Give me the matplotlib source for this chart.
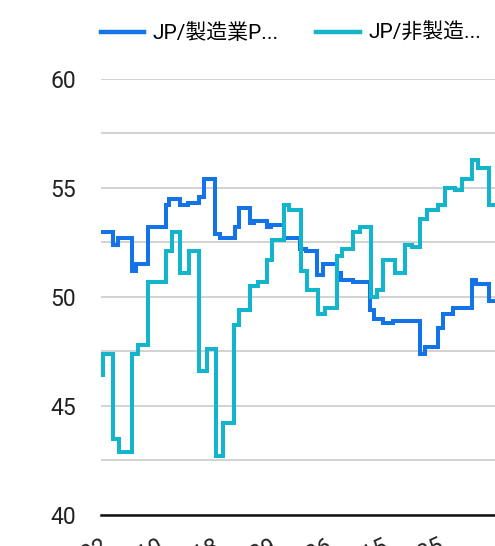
import numpy as np
import matplotlib
matplotlib.use("Agg")
import matplotlib.pyplot as plt
from matplotlib.lines import Line2D

plt.rcParams['font.family'] = ['Roboto', 'Noto Sans CJK JP', 'DejaVu Sans']

BLUE = "#1473E6"
CYAN = "#12B5CB"
GRID = "#CFCFCF"

# Latest published reading (flash / final) for each series
MFG_DATES = ["2021-08-02", "2021-08-23", "2021-09-01", "2021-09-27", "2021-10-04",
             "2021-10-25", "2021-11-25", "2021-12-01", "2021-12-20", "2022-01-04",
             "2022-01-24", "2022-02-01", "2022-02-21", "2022-03-02", "2022-03-28",
             "2022-04-04", "2022-04-24", "2022-05-02", "2022-05-24", "2022-06-01",
             "2022-06-23", "2022-07-22", "2022-08-01", "2022-08-22", "2022-09-01",
             "2022-09-26", "2022-10-03", "2022-10-24", "2022-11-24", "2022-12-01",
             "2022-12-16", "2023-01-04", "2023-02-21", "2023-03-01", "2023-03-24",
             "2023-04-03", "2023-04-21", "2023-05-24", "2023-06-01", "2023-06-23"]
MFG_VALUES = [53.0, 52.4, 52.7, 51.2, 51.5,
              53.2, 54.2, 54.5, 54.2, 54.3,
              54.6, 55.4, 52.9, 52.7, 53.2,
              54.1, 53.4, 53.5, 53.2, 53.3,
              52.7, 52.2, 52.1, 51.0, 51.5,
              51.1, 50.8, 50.7, 49.4, 49.0,
              48.8, 48.9, 47.4, 47.7, 48.6,
              49.2, 49.5, 50.8, 50.6, 49.8]

SRV_DATES = ["2021-08-02", "2021-08-05", "2021-08-23", "2021-09-03", "2021-09-27",
             "2021-10-07", "2021-10-25", "2021-11-25", "2021-12-06", "2021-12-20",
             "2022-01-06", "2022-01-24", "2022-02-07", "2022-02-23", "2022-03-07",
             "2022-03-27", "2022-04-05", "2022-04-24", "2022-05-09", "2022-05-24",
             "2022-06-03", "2022-06-23", "2022-07-03", "2022-07-24", "2022-08-04",
             "2022-08-23", "2022-09-05", "2022-09-26", "2022-10-05", "2022-10-24",
             "2022-11-06", "2022-11-25", "2022-12-06", "2022-12-16", "2023-01-07",
             "2023-01-25", "2023-02-07", "2023-02-21", "2023-03-05", "2023-03-24",
             "2023-04-06", "2023-04-24", "2023-05-07", "2023-05-24", "2023-06-04",
             "2023-06-23"]
SRV_VALUES = [46.4, 47.4, 43.5, 42.9, 47.4,
              47.8, 50.7, 52.1, 53.0, 51.1,
              52.1, 46.6, 47.6, 42.7, 44.2,
              48.7, 49.4, 50.5, 50.7, 51.7,
              52.6, 54.2, 54.0, 51.2, 50.3,
              49.2, 49.5, 51.9, 52.2, 53.0,
              53.2, 50.0, 50.3, 51.7, 51.1,
              52.4, 52.3, 53.6, 54.0, 54.2,
              55.0, 54.9, 55.4, 56.3, 55.9,
              54.2]

LAST_DATE = "2023-06-30"
TICK_DATES = ["2021-08-02", "2021-11-10", "2022-02-18", "2022-05-29",
              "2022-09-06", "2022-12-15", "2023-03-25"]
LABELS = ["JP/製造業P...", "JP/非製造..."]


def stepped(dates, values):
    d = np.array(dates + [LAST_DATE], dtype="datetime64[D]").astype("O")
    v = values + [values[-1]]
    return d, v


fig = plt.figure(figsize=(4.95, 5.46), dpi=100)
ax = fig.add_axes([101 / 495, 31 / 546, 394 / 495, 436 / 546])

for dates, values, color in [(MFG_DATES, MFG_VALUES, BLUE), (SRV_DATES, SRV_VALUES, CYAN)]:
    d, v = stepped(dates, values)
    ax.plot(d, v, drawstyle="steps-post", color=color, lw=2.9,
            solid_joinstyle="miter", zorder=3)

start = np.datetime64(MFG_DATES[0]).astype("O")
end = np.datetime64("2023-07-04").astype("O")
ax.set_xlim(start, end)
ax.set_ylim(40, 60)

yt = np.arange(40, 60.1, 2.5)
ax.set_yticks(yt)
ax.set_yticklabels([f"{t:.0f}" if t % 5 == 0 else "" for t in yt])
ax.grid(axis="y", color=GRID, lw=1.3, zorder=0)
ax.tick_params(axis="y", length=0, pad=18, labelsize=16.5, labelcolor="#222222")

ticks = np.array(TICK_DATES, dtype="datetime64[D]").astype("O")
ax.set_xticks(ticks)
ax.set_xticklabels(TICK_DATES, rotation=25, ha="right", rotation_mode="anchor")
ax.tick_params(axis="x", length=0, pad=14, labelsize=16.5, labelcolor="#222222")

for s in ["top", "right", "left"]:
    ax.spines[s].set_visible(False)
ax.spines["bottom"].set_color("#111111")
ax.spines["bottom"].set_linewidth(1.8)

handles = [Line2D([0], [0], color=BLUE, lw=3.2), Line2D([0], [0], color=CYAN, lw=3.2)]
fig.legend(handles, LABELS, loc="center", bbox_to_anchor=(291 / 495, 1 - 33 / 546),
           ncol=2, frameon=False, fontsize=15, handlelength=2.1,
           handletextpad=0.4, columnspacing=1.8)

fig.savefig("out.png", dpi=100, facecolor="white")
